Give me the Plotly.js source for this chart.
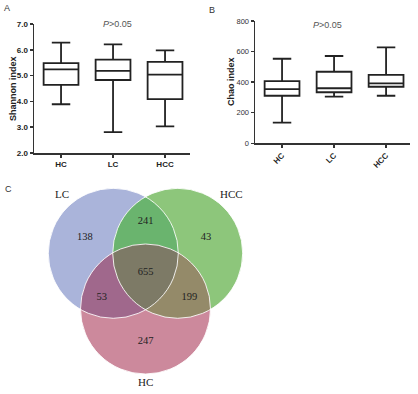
<!DOCTYPE html>
<html>
<head>
<meta charset="utf-8">
<script src="https://cdn.plot.ly/plotly-3.0.1.min.js"></script>
<style>html,body{margin:0;padding:0;background:#fff;}#chart{width:418px;height:394px;}</style>
</head>
<body>
<div id="chart"></div>
<script>
// ---------- data ----------
const groups = ['HC', 'LC', 'HCC'];
// Panel A: Shannon index
const shannonUpper = [6.28, 6.21, 5.98];
const shannonQ3    = [5.48, 5.62, 5.53];
const shannonMed   = [5.24, 5.18, 5.04];
const shannonQ1    = [4.64, 4.83, 4.09];
const shannonLower = [3.89, 2.81, 3.03];
// Panel B: Chao index
const chaoUpper = [553, 571, 628];
const chaoQ3    = [407, 468, 447];
const chaoMed   = [355, 360, 392];
const chaoQ1    = [311, 334, 370];
const chaoLower = [135, 305, 311];
const yTitles = ['Shannon index', 'Chao index'];
// Panel C: Venn counts
const vennSets = ['LC', 'HCC', 'HC'];
const onlyCounts = [138, 43, 247];          // LC, HCC, HC
const pairKeys = [[0, 1], [0, 2], [1, 2]];  // LC&HCC, LC&HC, HCC&HC
const pairCounts = [241, 53, 199];
const allCount = 655;

// ---------- styling ----------
const SANS = 'Liberation Sans, Arial, sans-serif';
const SERIF = 'Liberation Serif, Times New Roman, serif';
const W = 418, H = 394;
const px = v => v / W;
const py = v => (H - v) / H;

const boxStyle = {
  type: 'box', boxpoints: false, fillcolor: '#ffffff',
  line: {color: '#222222', width: 1.8}, whiskerwidth: 0.53, width: 0.67,
  showlegend: false, hoverinfo: 'skip'
};

const traces = [];
traces.push(Object.assign({}, boxStyle, {
  x: groups, q1: shannonQ1, median: shannonMed, q3: shannonQ3,
  lowerfence: shannonLower, upperfence: shannonUpper, xaxis: 'x', yaxis: 'y'
}));
traces.push(Object.assign({}, boxStyle, {
  x: groups, q1: chaoQ1, median: chaoMed, q3: chaoQ3,
  lowerfence: chaoLower, upperfence: chaoUpper, xaxis: 'x2', yaxis: 'y2'
}));

// ---------- Venn geometry (pixel-like units on axis 3) ----------
const R = 65;
const circles = [
  {cx: 113.3, cy: 253.3, r: R},  // LC
  {cx: 177.7, cy: 253.3, r: R},  // HCC
  {cx: 145.5, cy: 309.0, r: R}   // HC
];
const singleColors = ['#aab4da', '#8dc67b', '#cc899c'];
const pairColors = ['#6ab46e', '#a0688c', '#948a69'];
const allColor = '#7d7a66';

function diskIntersection(idx) {
  const pts = [];
  const N = 720;
  idx.forEach(i => {
    const c = circles[i];
    for (let k = 0; k < N; k++) {
      const a = 2 * Math.PI * k / N;
      const x = c.cx + c.r * Math.cos(a), y = c.cy + c.r * Math.sin(a);
      let ok = true;
      idx.forEach(j => {
        if (j === i) return;
        const d = Math.hypot(x - circles[j].cx, y - circles[j].cy);
        if (d > circles[j].r + 1e-9) ok = false;
      });
      if (ok) pts.push([x, y]);
    }
  });
  const mx = pts.reduce((s, p) => s + p[0], 0) / pts.length;
  const my = pts.reduce((s, p) => s + p[1], 0) / pts.length;
  pts.sort((p, q) => Math.atan2(p[1] - my, p[0] - mx) - Math.atan2(q[1] - my, q[0] - mx));
  pts.push(pts[0]);
  return pts;
}
function regionTrace(idx, color) {
  const pts = diskIntersection(idx);
  return {
    type: 'scatter', mode: 'lines', fill: 'toself', fillcolor: color,
    x: pts.map(p => p[0]), y: pts.map(p => p[1]),
    line: {width: 0, color: color}, xaxis: 'x3', yaxis: 'y3',
    showlegend: false, hoverinfo: 'skip'
  };
}
[0, 1, 2].forEach(i => traces.push(regionTrace([i], singleColors[i])));
pairKeys.forEach((pk, k) => traces.push(regionTrace(pk, pairColors[k])));
traces.push(regionTrace([0, 1, 2], allColor));

// label positions from geometry
const T = {x: (circles[0].cx + circles[1].cx + circles[2].cx) / 3,
           y: (circles[0].cy + circles[1].cy + circles[2].cy) / 3};
const lx = [], ly = [], lt = [];
[0, 1, 2].forEach(i => {
  const k = 1.88;
  lx.push(T.x + k * (circles[i].cx - T.x)); ly.push(T.y + k * (circles[i].cy - T.y)); lt.push(String(onlyCounts[i]));
});
pairKeys.forEach((pk, n) => {
  const k = 2.72;
  const mx = (circles[pk[0]].cx + circles[pk[1]].cx) / 2, my = (circles[pk[0]].cy + circles[pk[1]].cy) / 2;
  lx.push(T.x + k * (mx - T.x)); ly.push(T.y + k * (my - T.y)); lt.push(String(pairCounts[n]));
});
lx.push(T.x); ly.push(T.y + 0.8); lt.push(String(allCount));
traces.push({
  type: 'scatter', mode: 'text', x: lx, y: ly, text: lt,
  textfont: {family: SERIF, size: 10.5, color: '#222222'},
  xaxis: 'x3', yaxis: 'y3', showlegend: false, hoverinfo: 'skip'
});

const shapes = circles.map(c => ({
  type: 'circle', xref: 'x3', yref: 'y3',
  x0: c.cx - c.r, x1: c.cx + c.r, y0: c.cy - c.r, y1: c.cy + c.r,
  line: {color: 'rgba(255,255,255,0.85)', width: 1}, fillcolor: 'rgba(0,0,0,0)'
}));

const setLabelOffsets = [[-51.5, -59.5], [53.5, -59.5], [0.2, 73]];
const annotations = [];
vennSets.forEach((s, i) => {
  annotations.push({
    xref: 'x3', yref: 'y3', x: circles[i].cx + setLabelOffsets[i][0], y: circles[i].cy + setLabelOffsets[i][1],
    text: s, showarrow: false, xanchor: 'center', yanchor: 'middle',
    font: {family: SERIF, size: 11, color: '#222222'}
  });
});
// panel letters
[['A', 7, 8], ['B', 212, 10], ['C', 8, 189]].forEach(a => {
  annotations.push({xref: 'paper', yref: 'paper', x: px(a[1]), y: py(a[2]), text: a[0],
    showarrow: false, xanchor: 'center', yanchor: 'middle', font: {family: SANS, size: 9, color: '#333'}});
});
// axis titles (placed as rotated annotations for exact placement)
[[yTitles[0], 13, 89], [yTitles[1], 231, 82]].forEach(a => {
  annotations.push({xref: 'paper', yref: 'paper', x: px(a[1]), y: py(a[2]), text: a[0], textangle: -90,
    showarrow: false, xanchor: 'center', yanchor: 'middle',
    font: {family: SANS, size: 9, color: '#222', weight: 'bold'}});
});
// P annotations
const pHtml = '<i>P</i>&gt;0.05';
annotations.push({xref: 'paper', yref: 'paper', x: px(118), y: py(24.5), text: pHtml, showarrow: false,
  xanchor: 'center', yanchor: 'middle', font: {family: SANS, size: 9, color: '#555'}});
annotations.push({xref: 'paper', yref: 'paper', x: px(327), y: py(25), text: pHtml, showarrow: false,
  xanchor: 'center', yanchor: 'middle', font: {family: SANS, size: 9, color: '#555'}});

const axCommon = {
  showline: true, linecolor: '#333333', linewidth: 1.5, ticks: 'outside', ticklen: 3,
  tickwidth: 1.5, tickcolor: '#333333', showgrid: false, zeroline: false, fixedrange: true
};

const layout = {
  width: W, height: H, margin: {l: 0, r: 0, t: 0, b: 0},
  paper_bgcolor: '#ffffff', plot_bgcolor: 'rgba(0,0,0,0)',
  showlegend: false,
  xaxis: Object.assign({}, axCommon, {
    domain: [px(34), px(190)], anchor: 'y', type: 'category', range: [-0.52, 2.48],
    tickfont: {family: SANS, size: 8, color: '#222', weight: 'bold'}
  }),
  yaxis: Object.assign({}, axCommon, {
    domain: [py(153), py(24)], anchor: 'x', range: [2, 7], dtick: 1, tickformat: '.1f',
    tickfont: {family: SANS, size: 8, color: '#222', weight: 'bold'}
  }),
  xaxis2: Object.assign({}, axCommon, {
    domain: [px(255), px(410)], anchor: 'y2', type: 'category', range: [-0.52, 2.46],
    tickangle: -45,
    tickfont: {family: SANS, size: 8, color: '#222', weight: 'bold'}
  }),
  yaxis2: Object.assign({}, axCommon, {
    domain: [py(143.3), py(21)], anchor: 'x2', range: [0, 800], dtick: 200,
    tickfont: {family: SANS, size: 7.5, color: '#333'}
  }),
  xaxis3: {domain: [0, 1], anchor: 'y3', range: [0, W], visible: false, fixedrange: true},
  yaxis3: {domain: [0, py(173.36)], anchor: 'x3', range: [H, 173.36], visible: false, fixedrange: true},
  shapes: shapes,
  annotations: annotations
};

Plotly.newPlot('chart', traces, layout, {displayModeBar: false, staticPlot: true});
</script>
</body>
</html>
